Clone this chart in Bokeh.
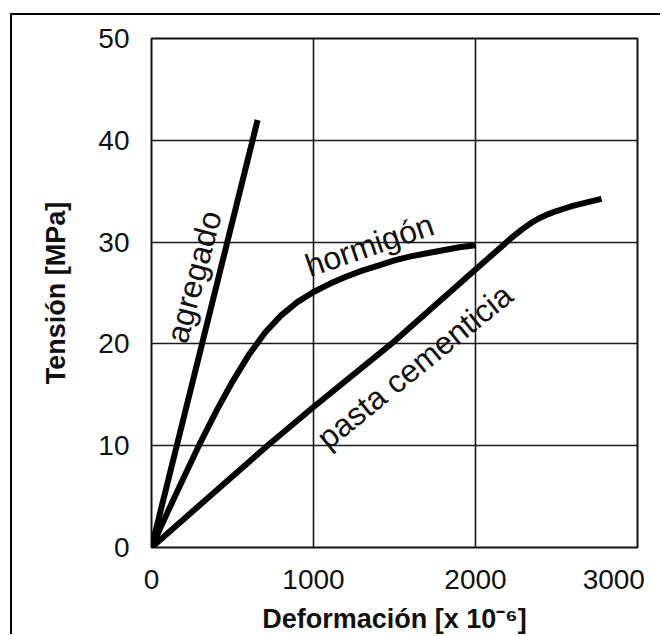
from bokeh.plotting import figure
from bokeh.models import Range1d, ColumnDataSource
from bokeh.embed import file_html
from bokeh.resources import INLINE
from bokeh.core.properties import value

# Axis ticks
x_ticks = [0, 1000, 2000, 3000]
y_ticks = [0, 10, 20, 30, 40, 50]

# Stress-strain curves (strain in 10^-6, stress in MPa)
agregado_x = [0, 655]
agregado_y = [0, 42]

hormigon_x = [0, 100, 200, 292, 400, 500, 600, 700, 800, 900, 1000, 1100, 1200,
              1300, 1400, 1500, 1600, 1700, 1800, 1900, 2000]
hormigon_y = [0, 3.5, 6.9, 10, 13.4, 16.3, 18.9, 21.1, 22.8, 24.1, 25.1, 25.9, 26.6,
              27.2, 27.7, 28.2, 28.6, 28.9, 29.2, 29.5, 29.7]

pasta_x = [0, 715, 1000, 1480, 2000, 2100, 2178, 2220, 2260, 2300, 2350, 2400, 2450,
           2500, 2550, 2600, 2700, 2778]
pasta_y = [0, 10, 13.8, 20, 27.3, 28.7, 29.8, 30.4, 30.9, 31.4, 31.95, 32.4, 32.75,
           33.05, 33.3, 33.55, 33.95, 34.25]

# Curve names written along each curve
curve_names = ["agregado", "hormigón", "pasta cementicia"]
name_x = [262, 1345, 1625]
name_y = [26.6, 29.7, 17.8]
name_angle = [75, 19, 39]

FONT = "Liberation Sans"

p = figure(
    width=650, height=621,
    x_range=Range1d(0, 3000), y_range=Range1d(0, 50),
    output_backend="svg", toolbar_location=None,
    min_border_left=139, min_border_right=25,
    min_border_top=23, min_border_bottom=88,
)
p.margin = (13, 0, 0, 10)
p.styles = {"border-left": "2px solid black", "border-top": "2px solid black"}
p.background_fill_color = "white"
p.border_fill_color = "white"
p.outline_line_color = "#111111"
p.outline_line_width = 2

for ax, ticks in ((p.xaxis, x_ticks), (p.yaxis, y_ticks)):
    ax.ticker = ticks
    ax.axis_line_color = None
    ax.major_tick_line_color = None
    ax.minor_tick_line_color = None
    ax.major_label_text_font = FONT
    ax.major_label_text_font_size = "28px"
    ax.major_label_text_color = "#111111"
    ax.axis_label_text_font = FONT
    ax.axis_label_text_font_size = "27px"
    ax.axis_label_text_font_style = "bold"
    ax.axis_label_text_color = "#111111"

p.xaxis.axis_label = "Deformación [x 10⁻⁶]"
p.yaxis.axis_label = "Tensión [MPa]"
p.xaxis.major_label_standoff = 10
p.xaxis.axis_label_standoff = 6
p.yaxis.major_label_standoff = 16
p.yaxis.axis_label_standoff = 24
# keep the last strain label inside the frame border
p.xaxis.major_label_overrides = {3000: "3000\u00a0\u00a0"}

p.xgrid.ticker = x_ticks
p.ygrid.ticker = y_ticks
p.grid.grid_line_color = "#1a1a1a"
p.grid.grid_line_width = 1.6
p.grid.grid_line_alpha = 1.0

for xs, ys in ((agregado_x, agregado_y), (hormigon_x, hormigon_y), (pasta_x, pasta_y)):
    p.line(xs, ys, line_color="black", line_width=6, line_join="round", line_cap="butt")

names = ColumnDataSource(dict(x=name_x, y=name_y, text=curve_names, angle=name_angle))
p.text(
    x="x", y="y", text="text", angle="angle", angle_units="deg", source=names,
    text_font=value(FONT), text_font_size="32px", text_color="#111111",
    text_align="center", text_baseline="middle",
)

open("out.html", "w").write(file_html(p, INLINE))
